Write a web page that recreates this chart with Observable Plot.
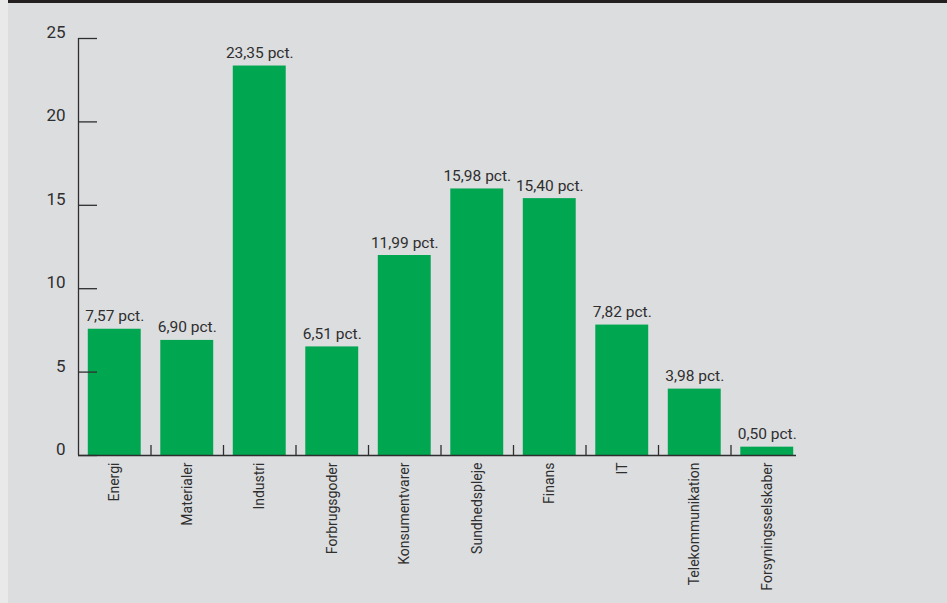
<!DOCTYPE html>
<html>
<head>
<meta charset="utf-8">
<script src="https://cdn.jsdelivr.net/npm/d3@7"></script>
<script src="https://cdn.jsdelivr.net/npm/@observablehq/plot@0.6"></script>
<style>
  html, body { margin: 0; padding: 0; background: #e9e9ea; }
  #wrap { margin-left: 8px; width: 939px; height: 600px; background: #dcdddf; border-top: 3px solid #231f20; overflow: hidden; }
  svg { display: block; }
</style>
</head>
<body>
<div id="wrap"></div>
<script>
const categories = ["Energi", "Materialer", "Industri", "Forbrugsgoder", "Konsumentvarer", "Sundhedspleje", "Finans", "IT", "Telekommunikation", "Forsyningsselskaber"];
const values = [7.57, 6.90, 23.35, 6.51, 11.99, 15.98, 15.40, 7.82, 3.98, 0.50];
const valueLabels = ["7,57 pct.", "6,90 pct.", "23,35 pct.", "6,51 pct.", "11,99 pct.", "15,98 pct.", "15,40 pct.", "7,82 pct.", "3,98 pct.", "0,50 pct."];
const yTicks = [0, 5, 10, 15, 20, 25];

const data = categories.map((c, i) => ({category: c, value: values[i], label: valueLabels[i]}));

const W = 939, H = 600;
const mL = 70, mR = 144, mT = 35, mB = 148;
const step = (W - mL - mR) / categories.length;
const ink = "#2e2e2e";

const plot = Plot.plot({
  width: W,
  height: H,
  marginLeft: mL,
  marginRight: mR,
  marginTop: mT,
  marginBottom: mB,
  style: {background: "transparent", fontFamily: "Roboto, sans-serif", color: ink},
  x: {domain: categories, paddingInner: 0.27, paddingOuter: 0.135, round: false, label: null},
  y: {domain: [0, 25], label: null},
  marks: [
    Plot.barY(data, {x: "category", y: "value", fill: "#00a650"}),
    Plot.axisY({ticks: yTicks, tickSize: 0, tickPadding: 13, dy: -6, fontSize: 17, label: null}),
    Plot.ruleX([categories[0]], {x: d => d, y1: 0, y2: 25, dx: -step / 2, stroke: ink, strokeWidth: 1.3}),
    Plot.ruleY(yTicks, {y: d => d, insetRight: (W - mL - mR) - 19, stroke: ink, strokeWidth: 1.3}),
    Plot.ruleY([0], {insetRight: 7, stroke: ink, strokeWidth: 1.3}),
    Plot.ruleX(categories.slice(1), {x: d => d, y1: 0, y2: 0.6, dx: -step / 2, stroke: ink, strokeWidth: 1.3}),
    Plot.axisX({tickSize: 0, tickPadding: 7, tickRotate: -90, fontSize: 14, label: null}),
    Plot.text(data, {x: "category", y: "value", text: "label", lineAnchor: "bottom", dy: -8, fontSize: 15.5, fill: ink})
  ]
});
document.getElementById("wrap").appendChild(plot);
</script>
</body>
</html>
